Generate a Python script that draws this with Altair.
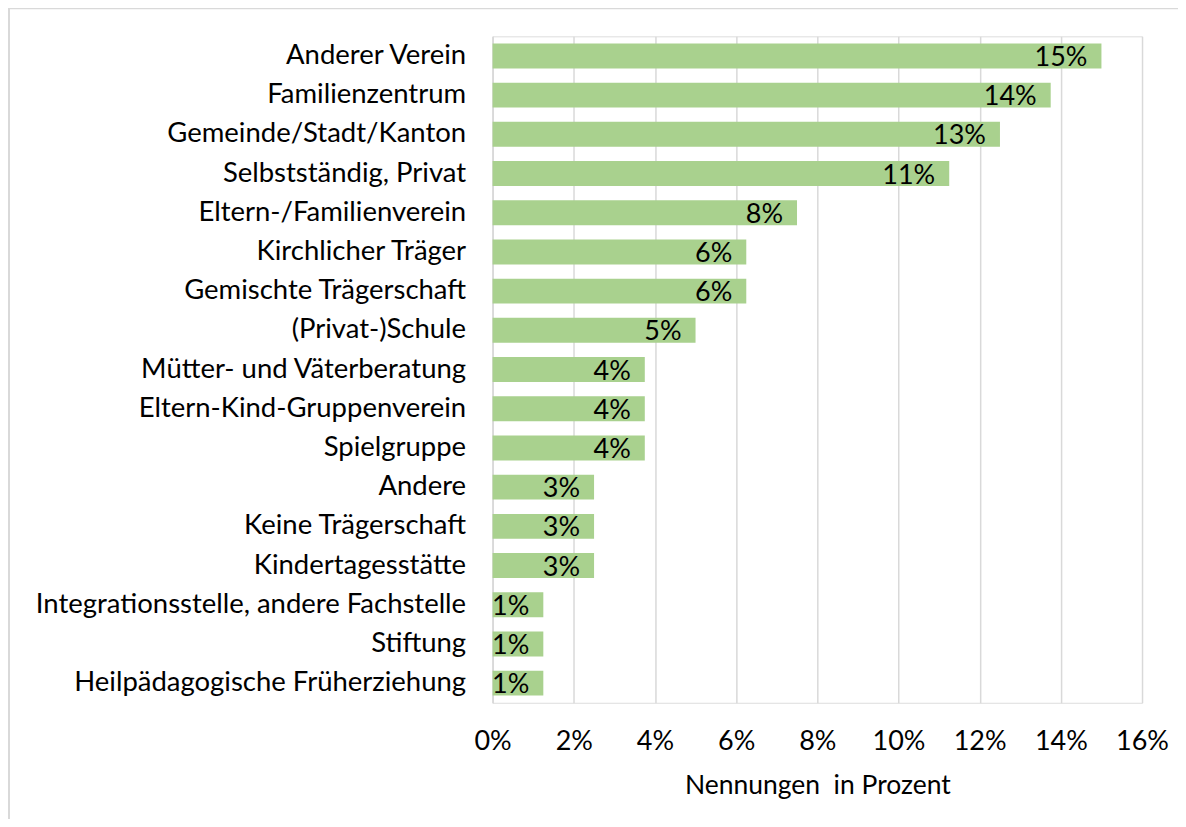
import altair as alt
import pandas as pd

categories = [
    "Anderer Verein",
    "Familienzentrum",
    "Gemeinde/Stadt/Kanton",
    "Selbstständig, Privat",
    "Eltern-/Familienverein",
    "Kirchlicher Träger",
    "Gemischte Trägerschaft",
    "(Privat-)Schule",
    "Mütter- und Väterberatung",
    "Eltern-Kind-Gruppenverein",
    "Spielgruppe",
    "Andere",
    "Keine Trägerschaft",
    "Kindertagesstätte",
    "Integrationsstelle, andere Fachstelle",
    "Stiftung",
    "Heilpädagogische Früherziehung",
]
values = [15.0, 13.75, 12.5, 11.25, 7.5, 6.25, 6.25, 5.0, 3.75, 3.75, 3.75, 2.5, 2.5, 2.5, 1.25, 1.25, 1.25]
labels = ["15%", "14%", "13%", "11%", "8%", "6%", "6%", "5%", "4%", "4%", "4%", "3%", "3%", "3%", "1%", "1%", "1%"]
ticks = [0, 2, 4, 6, 8, 10, 12, 14, 16]

df = pd.DataFrame({"cat": categories, "val": values, "lab": labels})

FONT = "Lato"
W, H = 650, 667
PL, PT, PR, PB = 485, 28, 36, 116

y_enc = alt.Y("cat:N", sort=categories, title=None,
              scale=alt.Scale(paddingInner=0.364, paddingOuter=0.182),
              axis=alt.Axis(labelFont=FONT, labelFontSize=27.5, labelColor="#000000",
                            labelPadding=27, ticks=False, domainColor="#d9d9d9",
                            domainWidth=1.5, labelLimit=600))
x_enc = alt.X("val:Q", title="Nennungen\u00a0 in Prozent",
              scale=alt.Scale(domain=[0, 16], nice=False),
              axis=alt.Axis(values=ticks, labelExpr="datum.value + '%'",
                            labelFont=FONT, labelFontSize=27, labelColor="#000000",
                            labelPadding=26, ticks=False, domain=False,
                            labelFlush=False, labelOverlap=False,
                            grid=True, gridColor="#d9d9d9", gridWidth=1.5,
                            titleFont=FONT, titleFontSize=26.5, titleFontWeight="normal",
                            titleColor="#000000", titlePadding=18))

bars = alt.Chart(df).mark_bar(color="#a9d18e").encode(x=x_enc, y=y_enc)
text = alt.Chart(df).mark_text(align="right", dx=-14, dy=2, font=FONT, fontSize=27,
                               color="#000000", baseline="middle").encode(
    x="val:Q", y=alt.Y("cat:N", sort=categories), text="lab:N")

border = alt.Chart(pd.DataFrame({"a": [0]})).mark_rect(
    fill=None, stroke="#d9d9d9", strokeWidth=2, clip=False).encode(
    x=alt.value(-PL + 1), x2=alt.value(W + PR + 20),
    y=alt.value(-PT), y2=alt.value(H + PB + 20))

chart = alt.layer(bars, text, border).properties(
    width=W, height=H,
    autosize=alt.AutoSizeParams(type="none"),
    padding={"left": PL, "top": PT, "right": PR, "bottom": PB},
).configure_view(stroke=None).configure(background="#ffffff")

chart.save("out.html", embed_options={"renderer": "svg", "actions": False})
